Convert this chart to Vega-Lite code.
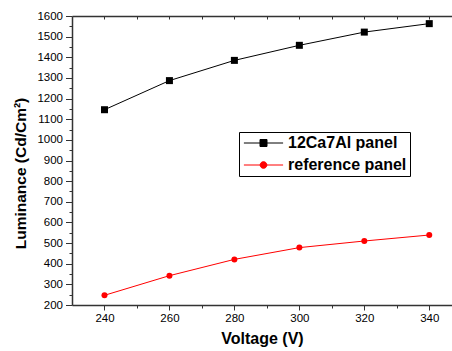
{
  "$schema": "https://vega.github.io/schema/vega-lite/v6.json",
  "width": 380,
  "height": 289,
  "autosize": {"type": "none"},
  "padding": {"left": 72, "top": 16, "right": 0, "bottom": 46},
  "background": "white",
  "config": {
    "font": "Liberation Sans",
    "view": {"stroke": null},
    "axis": {
      "grid": false,
      "labelFont": "Liberation Sans",
      "labelFontSize": 11.5,
      "labelColor": "#000000",
      "titleFont": "Liberation Sans",
      "titleFontSize": 16,
      "titleFontWeight": "bold",
      "titleColor": "#000000",
      "domainColor": "#333333",
      "domainWidth": 1.5,
      "tickColor": "#333333",
      "tickWidth": 1
    }
  },
  "data": {
    "values": [
      {"Voltage": 240, "Luminance": 1146, "Panel": "12Ca7Al panel"},
      {"Voltage": 260, "Luminance": 1287, "Panel": "12Ca7Al panel"},
      {"Voltage": 280, "Luminance": 1385, "Panel": "12Ca7Al panel"},
      {"Voltage": 300, "Luminance": 1458, "Panel": "12Ca7Al panel"},
      {"Voltage": 320, "Luminance": 1522, "Panel": "12Ca7Al panel"},
      {"Voltage": 340, "Luminance": 1563, "Panel": "12Ca7Al panel"},
      {"Voltage": 240, "Luminance": 247, "Panel": "reference panel"},
      {"Voltage": 260, "Luminance": 342, "Panel": "reference panel"},
      {"Voltage": 280, "Luminance": 421, "Panel": "reference panel"},
      {"Voltage": 300, "Luminance": 478, "Panel": "reference panel"},
      {"Voltage": 320, "Luminance": 510, "Panel": "reference panel"},
      {"Voltage": 340, "Luminance": 539, "Panel": "reference panel"}
    ]
  },
  "layer": [
    {
      "transform": [{"filter": "datum.Panel === '12Ca7Al panel'"}],
      "mark": {"type": "line", "strokeWidth": 1, "color": "#000000"},
      "encoding": {
        "x": {
          "field": "Voltage", "type": "quantitative",
          "scale": {"domain": [230, 347], "nice": false, "zero": false},
          "axis": {
            "orient": "bottom",
            "values": [240, 250, 260, 270, 280, 290, 300, 310, 320, 330, 340],
            "labelExpr": "datum.value % 20 === 0 ? datum.label : ''",
            "tickSize": {"condition": {"test": "datum.value % 20 === 0", "value": 5}, "value": 3},
            "labelPadding": 2,
            "title": "Voltage (V)",
            "titlePadding": 7
          }
        },
        "y": {
          "field": "Luminance", "type": "quantitative",
          "scale": {"domain": [200, 1600], "nice": false, "zero": false},
          "axis": {
            "orient": "left",
            "values": [200, 250, 300, 350, 400, 450, 500, 550, 600, 650, 700, 750, 800, 850, 900, 950, 1000, 1050, 1100, 1150, 1200, 1250, 1300, 1350, 1400, 1450, 1500, 1550, 1600],
            "labelExpr": "datum.value % 100 === 0 ? datum.value : ''",
            "tickSize": {"condition": {"test": "datum.value % 100 === 0", "value": 6.5}, "value": 3},
            "labelPadding": 3,
            "title": "Luminance (Cd/Cm²)",
            "titleFontSize": 15.5,
            "titleX": -52,
            "titleY": 157,
            "titleAngle": 270,
            "titleBaseline": "middle",
            "titleAlign": "center"
          }
        }
      }
    },
    {
      "transform": [{"filter": "datum.Panel === 'reference panel'"}],
      "mark": {"type": "line", "strokeWidth": 1, "color": "#ff0000"},
      "encoding": {
        "x": {"field": "Voltage", "type": "quantitative", "axis": null},
        "y": {"field": "Luminance", "type": "quantitative", "axis": null}
      }
    },
    {
      "transform": [{"filter": "datum.Panel === '12Ca7Al panel'"}],
      "mark": {"type": "point", "filled": true, "opacity": 1, "shape": "square", "size": 49, "color": "#000000"},
      "encoding": {
        "x": {"field": "Voltage", "type": "quantitative", "axis": null},
        "y": {"field": "Luminance", "type": "quantitative", "axis": null}
      }
    },
    {
      "transform": [{"filter": "datum.Panel === 'reference panel'"}],
      "mark": {"type": "point", "filled": true, "opacity": 1, "shape": "circle", "size": 36, "color": "#ff0000"},
      "encoding": {
        "x": {"field": "Voltage", "type": "quantitative", "axis": null},
        "y": {"field": "Luminance", "type": "quantitative", "axis": null}
      }
    },
    {
      "mark": {"type": "point", "filled": true, "opacity": 0, "size": 49},
      "encoding": {
        "x": {"field": "Voltage", "type": "quantitative", "axis": null},
        "y": {"field": "Luminance", "type": "quantitative", "axis": null},
        "fill": {
          "field": "Panel", "type": "nominal",
          "scale": {"domain": ["12Ca7Al panel", "reference panel"], "range": ["#000000", "#ff0000"]},
          "legend": {"title": null}
        },
        "stroke": {
          "field": "Panel", "type": "nominal",
          "scale": {"domain": ["12Ca7Al panel", "reference panel"], "range": ["#000000", "#ff0000"]},
          "legend": {"title": null}
        },
        "shape": {
          "field": "Panel", "type": "nominal",
          "scale": {"domain": ["12Ca7Al panel", "reference panel"], "range": ["M-5.6,0H5.6M-1,-1H1V1H-1Z", "M-5.6,0H5.6M0.96,0A0.96,0.96,0,1,1,-0.96,0A0.96,0.96,0,1,1,0.96,0Z"]},
          "legend": {
            "title": null,
            "orient": "none",
            "legendX": 167,
            "legendY": 116,
            "strokeColor": "#000000",
            "fillColor": "#ffffff",
            "padding": 3,
            "labelFont": "Liberation Sans",
            "labelFontSize": 16,
            "labelFontWeight": "bold",
            "labelColor": "#000000",
            "symbolSize": 49,
            "symbolOpacity": 1,
            "symbolStrokeWidth": 1,
            "symbolOffset": 13.5,
            "labelOffset": 16.5,
            "rowPadding": 6
          }
        }
      }
    },
    {
      "mark": {"type": "rule", "opacity": 0},
      "encoding": {
        "x": {
          "field": "Voltage", "type": "quantitative",
          "axis": {
            "orient": "top",
            "values": [240, 250, 260, 270, 280, 290, 300, 310, 320, 330, 340],
            "labels": false,
            "domain": false,
            "title": null,
            "offset": -3,
            "tickSize": 3
          }
        }
      }
    },
    {
      "mark": {"type": "rule", "opacity": 0},
      "encoding": {
        "x": {
          "field": "Voltage", "type": "quantitative",
          "axis": {
            "orient": "top",
            "labels": false,
            "ticks": false,
            "domain": true,
            "title": null
          }
        }
      }
    }
  ],
  "resolve": {"axis": {"x": "independent", "y": "independent"}}
}
